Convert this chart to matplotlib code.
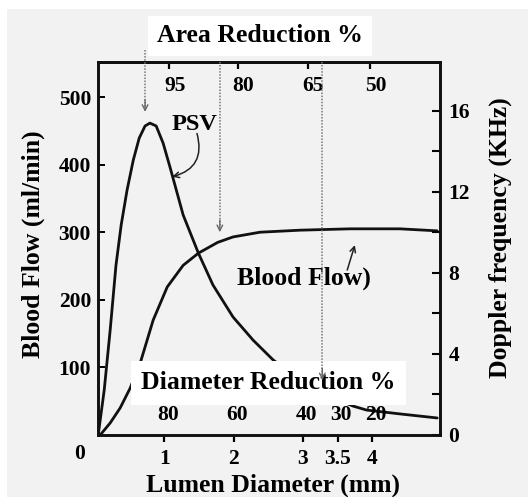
import matplotlib
matplotlib.use("Agg")
import matplotlib.pyplot as plt
from matplotlib.patches import Rectangle
from matplotlib.ticker import FixedLocator

plt.rcParams['font.family'] = ['Liberation Serif', 'DejaVu Serif']
plt.rcParams['font.weight'] = 'bold'
plt.rcParams['axes.labelweight'] = 'bold'

# ---- data ----
psv_x = [0.043, 0.13, 0.216, 0.30, 0.375, 0.46, 0.55, 0.635, 0.72, 0.79, 0.88, 0.98, 1.08,
         1.27, 1.49, 1.70, 1.99, 2.28, 2.57, 2.96, 3.32, 3.72, 3.92, 4.40, 4.94]
psv_khz = [0.0, 2.22, 5.18, 8.38, 10.36, 12.08, 13.56, 14.64, 15.24, 15.38, 15.24, 14.40, 13.21,
           10.85, 8.97, 7.40, 5.82, 4.68, 3.70, 2.71, 2.02, 1.43, 1.23, 1.04, 0.84]

flow_x = [0.072, 0.216, 0.36, 0.505, 0.65, 0.837, 1.04, 1.27, 1.49, 1.77, 1.99, 2.38,
          2.96, 3.68, 4.40, 4.94]
flow_ml = [0, 17.8, 40, 69.5, 106.5, 170, 219, 251, 269, 285, 293, 300, 303, 305, 305, 302]

diam_ticks = [1, 2, 3, 3.5, 4]
diam_labels = ['1', '2', '3', '3.5', '4']
diam_red_labels = ['80', '60', '40', '30', '20']
area_ticks = [1.07, 2.06, 3.07, 3.97]
area_labels = ['95', '80', '65', '50']
flow_ticks = [100, 200, 300, 400, 500]
khz_major = [0, 4, 8, 12, 16]
khz_minor = [2, 6, 10, 14]
arrow_x = [0.72, 1.80, 3.28]
arrow_from = [569, 552, 552]
arrow_to = [478, 300, 81]

W, H = 528, 497
fig = plt.figure(figsize=(W / 100, H / 100), dpi=100)
fig.patch.set_facecolor('white')
gray = '#f2f2f2'
fig.patches.append(Rectangle((7 / W, 0), 1 - 7 / W, 1 - 9 / H, transform=fig.transFigure,
                             facecolor=gray, edgecolor='none', zorder=-10))

ax = fig.add_axes([98 / W, 1 - 435 / H, (440 - 98) / W, (435 - 62) / H])
ax.set_facecolor(gray)
ax.set_xlim(0.04, 4.98)
ymax = 551.8
ax.set_ylim(0, ymax)
ax2 = ax.twinx()
ax2.set_ylim(0, ymax / 30)

for a in (ax, ax2):
    for s in a.spines.values():
        s.set_linewidth(1.9)
        s.set_color('#111111')

ax.plot(flow_x, flow_ml, color='#111111', lw=2.0, solid_capstyle='round',
        solid_joinstyle='round', zorder=2)
ax2.plot(psv_x, psv_khz, color='#111111', lw=2.0, solid_capstyle='round',
         solid_joinstyle='round', zorder=2)

# ticks
ax.set_xticks(diam_ticks)
ax.set_xticklabels(diam_labels)
ax.tick_params(axis='x', direction='out', length=5, width=1.6, pad=5, labelsize=15.5)
ax.set_yticks(flow_ticks)
ax.tick_params(axis='y', direction='in', length=5, width=1.4, pad=5, labelsize=15.5)
ax2.yaxis.set_major_locator(FixedLocator(khz_major))
ax2.yaxis.set_minor_locator(FixedLocator(khz_minor))
ax2.tick_params(axis='y', which='both', direction='in', length=6, width=1.5, pad=6, labelsize=15.5)
ax2.set_yticklabels([str(v) for v in khz_major])

# top (area reduction) ticks and labels inside
sec = ax.secondary_xaxis('top')
sec.set_xticks(area_ticks)
sec.set_xticklabels([])
sec.tick_params(direction='in', length=5, width=1.6)
sec.spines['top'].set_linewidth(1.9)
for xv, lab in zip(area_ticks, area_labels):
    ax.text(xv + 0.08, 516, lab, ha='center', va='center', fontsize=15.5, zorder=5)

# diameter reduction labels
for xv, lab in zip(diam_ticks, diam_red_labels):
    ax2.text(xv + 0.05, 29.6 / 30, lab, ha='center', va='center', fontsize=15.5, zorder=6)

ax.text(-0.053, -0.05, '0', transform=ax.transAxes, ha='center', va='center', fontsize=15.5)

# axis labels
ax.set_xlabel('Lumen Diameter (mm)', fontsize=18.5, fontweight='bold', va='center')
ax.xaxis.set_label_coords(0.512, -0.135)
ax.set_ylabel('Blood Flow (ml/min)', fontsize=18.5, fontweight='bold', va='center')
ax.yaxis.set_label_coords(-0.19, 0.512)
ax2.set_ylabel('Doppler frequency (KHz)', fontsize=18.5, fontweight='bold', va='center', rotation=90)
ax2.yaxis.set_label_coords(1.175, 0.53)

# title in white box
fig.text(260 / W, 1 - 36 / H, 'Area Reduction %', ha='center', va='center', fontsize=18.5,
         fontweight='bold', bbox=dict(boxstyle='square,pad=0.35', fc='white', ec='none'))

# diameter reduction box
ax2.text(2.5, 77 / 30, 'Diameter Reduction %', ha='center', va='center', fontsize=18.5, zorder=7,
         fontweight='bold', bbox=dict(boxstyle='square,pad=0.4', fc='white', ec='none'))

# annotations
ax.text(1.43, 460, 'PSV', ha='center', va='center', fontsize=17.5, zorder=5)
ax.annotate('', xy=(1.11, 382), xytext=(1.47, 446),
            arrowprops=dict(arrowstyle='->', color='#222222', lw=1.1, shrinkA=0, shrinkB=0,
                            connectionstyle='arc3,rad=-0.5'), zorder=5)
ax.text(3.02, 232, 'Blood Flow)', ha='center', va='center', fontsize=18.5, zorder=5)
ax.annotate('', xy=(3.75, 281), xytext=(3.64, 244),
            arrowprops=dict(arrowstyle='->', color='#222222', lw=1.1, shrinkA=0, shrinkB=0),
            zorder=5)

# dotted arrows
for xv, y0, y1 in zip(arrow_x, arrow_from, arrow_to):
    ax2.plot([xv, xv], [y0 / 30, y1 / 30 + 0.25], ls=(0, (1, 1)), color='#777777', lw=1.1,
             zorder=8, clip_on=False)
    ax2.annotate('', xy=(xv, y1 / 30), xytext=(xv, y1 / 30 + 0.6),
                 arrowprops=dict(arrowstyle='->', color='#666666', lw=1.0, shrinkA=0, shrinkB=0,
                                 mutation_scale=10), zorder=8, annotation_clip=False)

fig.savefig('out.png', dpi=100, facecolor=fig.get_facecolor())
